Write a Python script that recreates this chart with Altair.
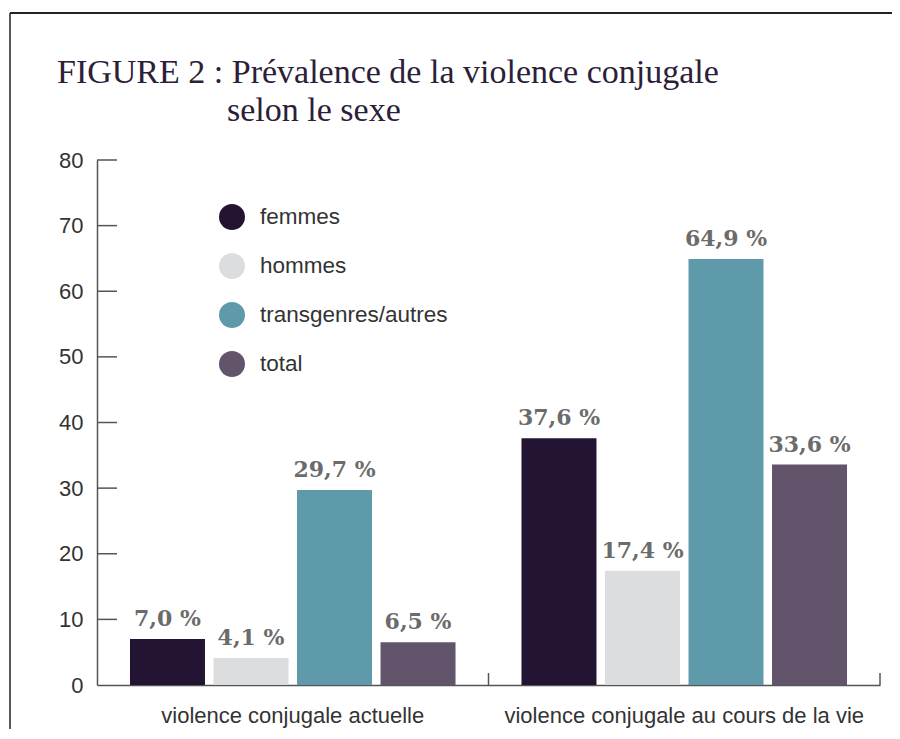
import altair as alt
import pandas as pd

groups = ["violence conjugale actuelle", "violence conjugale au cours de la vie"]
sexes = ["femmes", "hommes", "transgenres/autres", "total"]
colors = ["#231434", "#dcdddf", "#5f9aab", "#62556b"]
actuelle = [7.0, 4.1, 29.7, 6.5]
au_cours_vie = [37.6, 17.4, 64.9, 33.6]
y_ticks = [0, 10, 20, 30, 40, 50, 60, 70, 80]

rows = []
for g, vals in zip(groups, [actuelle, au_cours_vie]):
    for s, v in zip(sexes, vals):
        rows.append({"group": g, "sex": s, "value": v,
                     "label": f"{v:.1f}".replace(".", ",") + " %"})
df = pd.DataFrame(rows)

W, H = 783, 525

x_enc = alt.X("group:N", sort=groups,
              scale=alt.Scale(paddingInner=0, paddingOuter=0),
              axis=alt.Axis(title=None, labelAngle=0, ticks=False, labelPadding=20,
                            labelFont="Liberation Sans", labelFontSize=22,
                            labelColor="#333333", domainColor="#555555",
                            domainWidth=1.5, labelLimit=0))
xoff = alt.XOffset("sex:N", sort=sexes,
                   scale=alt.Scale(paddingInner=0.102, paddingOuter=0.395))
y_enc = alt.Y("value:Q", scale=alt.Scale(domain=[0, 80], nice=False),
              axis=alt.Axis(title=None, values=y_ticks, grid=False, ticks=False,
                            labelPadding=14, labelFont="Liberation Sans",
                            labelFontSize=22, labelColor="#333333",
                            domainColor="#555555", domainWidth=1.5))

bars = alt.Chart(df).mark_bar().encode(
    x=x_enc, xOffset=xoff, y=y_enc,
    color=alt.Color("sex:N", sort=sexes,
                    scale=alt.Scale(domain=sexes, range=colors),
                    legend=alt.Legend(title=None, orient="none", legendX=122, legendY=44,
                                      symbolType="circle", symbolSize=676,
                                      symbolStrokeWidth=0, labelFont="Liberation Sans",
                                      labelFontSize=22.5, labelColor="#333333",
                                      labelOffset=15, rowPadding=23, padding=0,
                                      labelLimit=0)),
)

texts = alt.Chart(df).mark_text(font="DejaVu Serif", fontWeight="bold", fontSize=22,
                                color="#6b6b6b", baseline="alphabetic", dy=-13).encode(
    x=alt.X("group:N", sort=groups), xOffset=alt.XOffset("sex:N", sort=sexes),
    y="value:Q", text="label:N")

tick_df = pd.DataFrame({"t": y_ticks[1:]})
yticks = alt.Chart(tick_df).mark_rule(color="#555555", strokeWidth=1.5).encode(
    y="t:Q", x=alt.value(0), x2=alt.value(20))

grp_df = pd.DataFrame({"group": groups})
xticks = alt.Chart(grp_df).mark_rule(color="#555555", strokeWidth=1.5).encode(
    x=alt.X("group:N", sort=groups, bandPosition=1),
    y=alt.value(H - 12), y2=alt.value(H))

frame_top = alt.Chart(grp_df.head(1)).mark_rule(color="#222222", strokeWidth=2).encode(
    x=alt.value(-87), x2=alt.value(W + 20), y=alt.value(-147))
frame_left = alt.Chart(grp_df.head(1)).mark_rule(color="#222222", strokeWidth=1.5).encode(
    x=alt.value(-87), y=alt.value(-147), y2=alt.value(H + 60))

chart = alt.layer(bars, texts, yticks, xticks, frame_top, frame_left).properties(
    width=W, height=H,
    autosize=alt.AutoSizeParams(type="none"),
    padding={"left": 89, "top": 152, "right": 12, "bottom": 44},
    title=alt.Title(
        text=["FIGURE 2 : Prévalence de la violence conjugale",
              "\u200b" + "\u00a0" * 20 + "selon le sexe"],
        anchor="start", frame="group", dx=-40, offset=-116,
        font="Liberation Serif", fontSize=34, fontWeight="normal",
        color="#2b2038", lineHeight=38),
).configure_view(stroke=None)

chart.save("out.html", embed_options={"renderer": "svg", "actions": False})
